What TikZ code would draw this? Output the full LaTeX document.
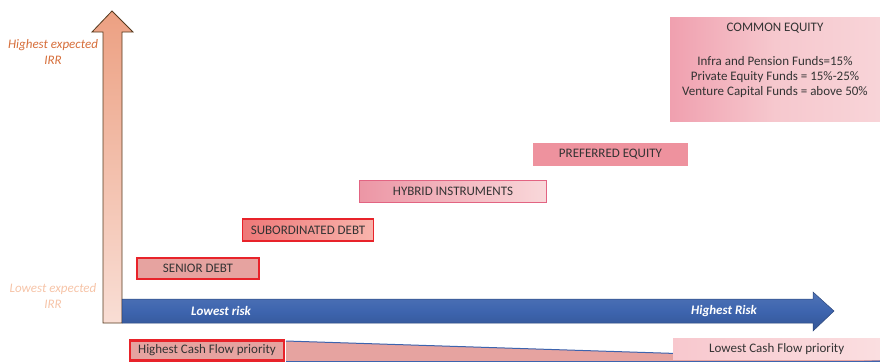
\documentclass[tikz,border=0pt]{standalone}
\usepackage{fontspec}
\setmainfont{Carlito}
\begin{document}
\begin{tikzpicture}[x=1pt,y=-1pt,
  lab/.style={font=\fontsize{13}{15}\selectfont, text=black!80, inner sep=0pt, align=center},
  irr/.style={font=\fontsize{13}{16}\selectfont\itshape, align=center, inner sep=0pt},
  risk/.style={font=\fontsize{13}{15}\selectfont\bfseries\itshape, text=white, inner sep=0pt}]
\useasboundingbox (0,0) rectangle (880,362);
\definecolor{redb}{HTML}{E8232A}
\definecolor{pinkf}{HTML}{E6A3A0}
\definecolor{blu}{HTML}{3D64AE}
% wedge
\fill[pinkf] (286,341) -- (880,360) -- (880,361) -- (286,361) -- cycle;
\draw[blu, line width=1pt] (286,341) -- (880,360);
\draw[blu, line width=1pt] (286,361) -- (880,361);
% vertical arrow
\path[draw=black!55!brown, line width=0.8pt, top color={rgb,255:red,236;green,160;blue,130}, bottom color={rgb,255:red,249;green,222;blue,213}]
  (103,323) -- (103,32) -- (92,32) -- (112,11) -- (133,32) -- (122,32) -- (122,323) -- cycle;
% horizontal arrow
\path[draw=blu!70!black, line width=0.5pt, top color=blu!90!white, bottom color=blu!85!black, middle color=blu]
  (122,299) -- (813,299) -- (813,292) -- (834,311) -- (813,331) -- (813,323) -- (122,323) -- cycle;
\node[risk] (lr) at (221,311) {Lowest risk};
\node[risk] (hr) at (724,311) {Highest Risk};
% IRR labels
\node[irr, text={rgb,255:red,214;green,110;blue,58}] (hi) at (53,52) {Highest expected\\IRR};
\node[irr, text={rgb,255:red,246;green,196;blue,168}] (lo) at (53,296) {Lowest expected\\IRR};
% boxes
\node[lab, draw=redb, line width=2.2pt, fill=pinkf, minimum width=122pt, minimum height=21pt] (sd) at (198,268.5) {SENIOR DEBT};
\node[lab, draw=redb, line width=1.2pt, left color={rgb,255:red,238;green,120;blue,120}, right color={rgb,255:red,248;green,180;blue,172}, minimum width=131pt, minimum height=22pt] (sub) at (308,230) {SUBORDINATED DEBT};
\node[lab, draw={rgb,255:red,226;green,100;blue,130}, line width=1pt, left color={rgb,255:red,236;green,150;blue,165}, right color={rgb,255:red,249;green,216;blue,218}, minimum width=187pt, minimum height=22pt] (hyb) at (453,191.5) {HYBRID INSTRUMENTS};
\node[lab, fill={rgb,255:red,238;green,146;blue,158}, minimum width=155pt, minimum height=23pt] (pe) at (610.5,154.5) {PREFERRED EQUITY};
\node[left color={rgb,255:red,240;green,160;blue,175}, right color={rgb,255:red,248;green,212;blue,216}, middle color={rgb,255:red,246;green,200;blue,206}, minimum width=210pt, minimum height=104pt, inner sep=0pt, anchor=north west] (ce) at (670,17) {};
\node[lab, anchor=north] (cet) at (775,23) {COMMON EQUITY\\[19pt]Infra and Pension Funds=15\%\\Private Equity Funds = 15\%-25\%\\Venture Capital Funds = above 50\%};
\node[lab, draw=redb, line width=2.2pt, fill=pinkf, minimum width=154pt, minimum height=20pt] (hcf) at (207,350.5) {Highest Cash Flow priority};
\node[lab, left color={rgb,255:red,248;green,200;blue,206}, right color={rgb,255:red,250;green,222;blue,224}, minimum width=207pt, minimum height=21pt, anchor=north west] (lcf) at (673,338) {Lowest Cash Flow priority};
\end{tikzpicture}
\end{document}
